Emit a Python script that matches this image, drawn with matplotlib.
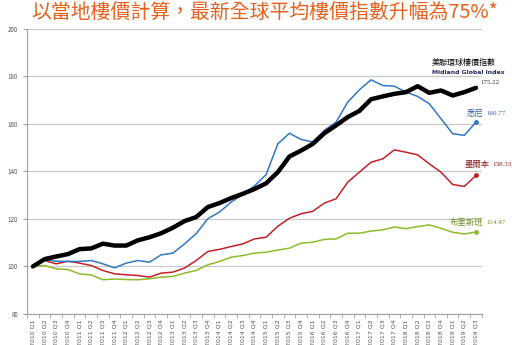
import matplotlib
matplotlib.use("Agg")
import matplotlib.pyplot as plt

plt.rcParams['font.family'] = ['Noto Sans CJK TC', 'DejaVu Sans']

quarters = [f"{y} Q{q}" for y in range(2010, 2020) for q in range(1, 5)][:39]

midland = [100, 103.1, 104.2, 105.2, 107.3, 107.6, 109.6, 108.8, 108.8, 111.0,
           112.3, 114.0, 116.3, 119.1, 120.8, 125.0, 126.7, 128.8, 130.6, 132.6,
           135.0, 139.7, 146.3, 148.8, 151.6, 156.1, 159.4, 162.9, 165.5, 170.4,
           171.6, 172.7, 173.4, 175.9, 173.1, 174.1, 172.0, 173.4, 175.22]
sydney = [100, 103.0, 102.2, 102.1, 102.1, 102.5, 101.1, 99.4, 101.4, 102.5,
          101.8, 104.9, 105.6, 109.5, 113.8, 120.1, 122.9, 127.1, 130.3, 133.9,
          138.7, 151.6, 156.1, 153.5, 152.4, 157.3, 160.8, 169.2, 174.4, 178.6,
          176.2, 175.9, 173.4, 171.6, 168.5, 162.2, 155.9, 155.2, 160.77]
melbourne = [100, 102.5, 101.1, 102.2, 101.4, 100.4, 98.3, 96.9, 96.5, 96.2,
             95.5, 97.2, 97.6, 99.3, 102.5, 106.3, 107.2, 108.4, 109.5, 111.6,
             112.3, 116.9, 120.3, 122.2, 123.2, 126.7, 128.5, 135.5, 139.7, 143.9,
             145.3, 149.1, 148.1, 147.0, 143.2, 139.7, 134.5, 133.7, 138.33]
brisbane = [100, 100.4, 99.0, 98.7, 96.9, 96.4, 94.4, 94.7, 94.5, 94.4,
            94.8, 95.5, 95.8, 97.2, 98.3, 100.7, 102.1, 103.9, 104.6, 105.6,
            106.0, 106.9, 107.7, 109.8, 110.2, 111.4, 111.6, 114.0, 114.0, 114.9,
            115.4, 116.6, 115.9, 116.8, 117.5, 116.1, 114.4, 113.7, 114.47]

fig = plt.figure(figsize=(5.12, 3.45), dpi=100)
ax = fig.add_axes([0.053, 0.09, 0.888, 0.826])

x = range(len(quarters))
ax.plot(x, brisbane, color="#8dbb2c", lw=1.1)
ax.plot(x, melbourne, color="#c0222a", lw=1.1)
ax.plot(x, sydney, color="#2f78c4", lw=1.1)
ax.plot(x, midland, color="black", lw=3.2, solid_capstyle="round")
ax.plot([38], [sydney[-1]], marker="o", ms=2.5, color="#2f78c4")
ax.plot([38], [melbourne[-1]], marker="o", ms=2.5, color="#c0222a")
ax.plot([38], [brisbane[-1]], marker="o", ms=2.5, color="#8dbb2c")

ax.set_xlim(-0.5, 38.5)
ax.set_ylim(80, 200)
ax.set_yticks(range(80, 201, 20))
ax.grid(axis="y", color="#c8c8c8", lw=0.9)
ax.set_axisbelow(True)
for s in ["top", "right"]:
    ax.spines[s].set_visible(False)
for s in ["left", "bottom"]:
    ax.spines[s].set_color("#a0a0a0")
ax.set_xticks(list(x))
ax.set_xticklabels(quarters, rotation=90, fontsize=4.5, color="#555555", family="DejaVu Sans")
ax.set_xticks([i + 0.5 for i in range(-1, 39)], minor=True)
ax.tick_params(axis="x", which="major", length=0, pad=4)
ax.tick_params(axis="x", which="minor", length=3, color="#a0a0a0")
ax.tick_params(axis="y", labelsize=4.5, labelcolor="#555555", length=3, color="#a0a0a0")

fig.text(0.062, 0.945, "以當地樓價計算，最新全球平均樓價指數升幅為75%*",
         color="#e8601c", fontsize=14.3)

serif = "Liberation Serif"
ax.text(34.2, 185.8, "美聯環球樓價指數", fontsize=5.8, color="black",
        va="center", clip_on=False)
ax.text(34.2, 181.6, "Midland Global Index", fontsize=4.4, color="#1f2d5a",
        fontweight="bold", family="DejaVu Sans", va="center", clip_on=False)
ax.text(38.4, 177.6, f"{midland[-1]:.2f}", fontsize=5, color="#333333",
        family=serif, va="center", clip_on=False)
ax.text(38.6, 164.5, "悉尼", fontsize=6, color="#2f5f9e", ha="right",
        va="center", clip_on=False)
ax.text(38.86, 164.5, f"{sydney[-1]:.2f}", fontsize=5, color="#2f5f9e",
        family=serif, va="center", clip_on=False)
ax.text(39.2, 142.8, "墨爾本", fontsize=6, color="#8b1a1a", ha="right",
        va="center", clip_on=False)
ax.text(39.38, 142.8, f"{melbourne[-1]:.2f}", fontsize=5, color="#8b1a1a",
        family=serif, va="center", clip_on=False)
ax.text(38.6, 118.4, "布里斯班", fontsize=6, color="#6b8e23", ha="right",
        va="center", clip_on=False)
ax.text(38.86, 118.4, f"{brisbane[-1]:.2f}", fontsize=5, color="#6b8e23",
        family=serif, va="center", clip_on=False)

fig.savefig("out.png", dpi=100)
